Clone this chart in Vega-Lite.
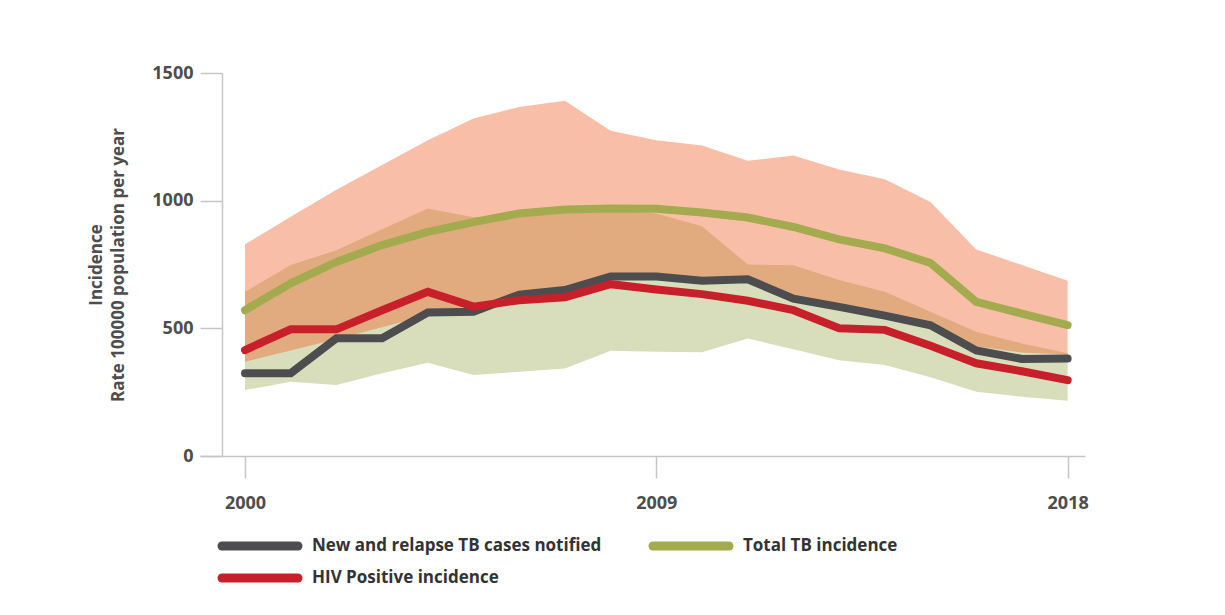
{
  "$schema": "https://vega.github.io/schema/vega-lite/v6.json",
  "width": 885,
  "height": 383,
  "autosize": {"type": "none"},
  "padding": {"left": 200, "top": 73, "right": 140, "bottom": 159},
  "background": "white",
  "config": {
    "view": {"stroke": null},
    "font": "Open Sans",
    "axis": {
      "grid": false,
      "domainColor": "#C6C6C6",
      "domainWidth": 1.5,
      "tickColor": "#C6C6C6",
      "tickWidth": 1.5,
      "tickSize": 22,
      "labelFont": "Open Sans",
      "labelFontWeight": "bold",
      "labelFontSize": 18,
      "labelColor": "#4D4D4D",
      "titleFont": "Open Sans",
      "titleFontWeight": "bold",
      "titleFontSize": 17,
      "titleColor": "#4D4D4D"
    },
    "axisY": {"offset": -22, "labelPadding": 7, "titlePadding": 24, "titleLineHeight": 22},
    "axisX": {"labelPadding": 16}
  },
  "datasets": {
    "lines": [
      {"year": 2000, "series": "New and relapse TB cases notified", "value": 324},
      {"year": 2001, "series": "New and relapse TB cases notified", "value": 324},
      {"year": 2002, "series": "New and relapse TB cases notified", "value": 461},
      {"year": 2003, "series": "New and relapse TB cases notified", "value": 461},
      {"year": 2004, "series": "New and relapse TB cases notified", "value": 562},
      {"year": 2005, "series": "New and relapse TB cases notified", "value": 565},
      {"year": 2006, "series": "New and relapse TB cases notified", "value": 632},
      {"year": 2007, "series": "New and relapse TB cases notified", "value": 650},
      {"year": 2008, "series": "New and relapse TB cases notified", "value": 703},
      {"year": 2009, "series": "New and relapse TB cases notified", "value": 703},
      {"year": 2010, "series": "New and relapse TB cases notified", "value": 686},
      {"year": 2011, "series": "New and relapse TB cases notified", "value": 692},
      {"year": 2012, "series": "New and relapse TB cases notified", "value": 616},
      {"year": 2013, "series": "New and relapse TB cases notified", "value": 584},
      {"year": 2014, "series": "New and relapse TB cases notified", "value": 550},
      {"year": 2015, "series": "New and relapse TB cases notified", "value": 512},
      {"year": 2016, "series": "New and relapse TB cases notified", "value": 413},
      {"year": 2017, "series": "New and relapse TB cases notified", "value": 380},
      {"year": 2018, "series": "New and relapse TB cases notified", "value": 382},
      {"year": 2000, "series": "HIV Positive incidence", "value": 415},
      {"year": 2001, "series": "HIV Positive incidence", "value": 496},
      {"year": 2002, "series": "HIV Positive incidence", "value": 496},
      {"year": 2003, "series": "HIV Positive incidence", "value": 571},
      {"year": 2004, "series": "HIV Positive incidence", "value": 643},
      {"year": 2005, "series": "HIV Positive incidence", "value": 585},
      {"year": 2006, "series": "HIV Positive incidence", "value": 610},
      {"year": 2007, "series": "HIV Positive incidence", "value": 622},
      {"year": 2008, "series": "HIV Positive incidence", "value": 673},
      {"year": 2009, "series": "HIV Positive incidence", "value": 652},
      {"year": 2010, "series": "HIV Positive incidence", "value": 634},
      {"year": 2011, "series": "HIV Positive incidence", "value": 608},
      {"year": 2012, "series": "HIV Positive incidence", "value": 571},
      {"year": 2013, "series": "HIV Positive incidence", "value": 500},
      {"year": 2014, "series": "HIV Positive incidence", "value": 494},
      {"year": 2015, "series": "HIV Positive incidence", "value": 432},
      {"year": 2016, "series": "HIV Positive incidence", "value": 363},
      {"year": 2017, "series": "HIV Positive incidence", "value": 332},
      {"year": 2018, "series": "HIV Positive incidence", "value": 297},
      {"year": 2000, "series": "Total TB incidence", "value": 571},
      {"year": 2001, "series": "Total TB incidence", "value": 676},
      {"year": 2002, "series": "Total TB incidence", "value": 760},
      {"year": 2003, "series": "Total TB incidence", "value": 826},
      {"year": 2004, "series": "Total TB incidence", "value": 878},
      {"year": 2005, "series": "Total TB incidence", "value": 916},
      {"year": 2006, "series": "Total TB incidence", "value": 950},
      {"year": 2007, "series": "Total TB incidence", "value": 965},
      {"year": 2008, "series": "Total TB incidence", "value": 969},
      {"year": 2009, "series": "Total TB incidence", "value": 968},
      {"year": 2010, "series": "Total TB incidence", "value": 954},
      {"year": 2011, "series": "Total TB incidence", "value": 934},
      {"year": 2012, "series": "Total TB incidence", "value": 897},
      {"year": 2013, "series": "Total TB incidence", "value": 848},
      {"year": 2014, "series": "Total TB incidence", "value": 813},
      {"year": 2015, "series": "Total TB incidence", "value": 756},
      {"year": 2016, "series": "Total TB incidence", "value": 604},
      {"year": 2017, "series": "Total TB incidence", "value": 558},
      {"year": 2018, "series": "Total TB incidence", "value": 513}
    ],
    "band_total": [
      {"year": 2000, "lower": 369, "upper": 829},
      {"year": 2001, "lower": 413, "upper": 937},
      {"year": 2002, "lower": 458, "upper": 1043},
      {"year": 2003, "lower": 504, "upper": 1140},
      {"year": 2004, "lower": 551, "upper": 1237},
      {"year": 2005, "lower": 592, "upper": 1322},
      {"year": 2006, "lower": 628, "upper": 1367},
      {"year": 2007, "lower": 648, "upper": 1391},
      {"year": 2008, "lower": 700, "upper": 1274},
      {"year": 2009, "lower": 703, "upper": 1237},
      {"year": 2010, "lower": 690, "upper": 1216},
      {"year": 2011, "lower": 694, "upper": 1156},
      {"year": 2012, "lower": 620, "upper": 1177},
      {"year": 2013, "lower": 588, "upper": 1122},
      {"year": 2014, "lower": 556, "upper": 1084},
      {"year": 2015, "lower": 522, "upper": 995},
      {"year": 2016, "lower": 430, "upper": 809},
      {"year": 2017, "lower": 405, "upper": 748},
      {"year": 2018, "lower": 398, "upper": 686}
    ],
    "band_hiv": [
      {"year": 2000, "lower": 258, "upper": 643},
      {"year": 2001, "lower": 291, "upper": 748},
      {"year": 2002, "lower": 278, "upper": 806},
      {"year": 2003, "lower": 324, "upper": 888},
      {"year": 2004, "lower": 365, "upper": 969},
      {"year": 2005, "lower": 317, "upper": 935},
      {"year": 2006, "lower": 330, "upper": 945},
      {"year": 2007, "lower": 343, "upper": 958},
      {"year": 2008, "lower": 412, "upper": 962},
      {"year": 2009, "lower": 408, "upper": 950},
      {"year": 2010, "lower": 406, "upper": 900},
      {"year": 2011, "lower": 460, "upper": 750},
      {"year": 2012, "lower": 418, "upper": 747},
      {"year": 2013, "lower": 375, "upper": 689},
      {"year": 2014, "lower": 356, "upper": 643},
      {"year": 2015, "lower": 308, "upper": 565},
      {"year": 2016, "lower": 252, "upper": 487},
      {"year": 2017, "lower": 232, "upper": 441},
      {"year": 2018, "lower": 216, "upper": 402}
    ]
  },
  "encoding": {
    "x": {
      "field": "year",
      "type": "quantitative",
      "scale": {"domain": [1999.015, 2018.38], "nice": false, "zero": false},
      "axis": {"values": [2000, 2009, 2018], "format": "d", "title": null}
    }
  },
  "layer": [
    {
      "data": {"name": "band_hiv"},
      "mark": {"type": "area", "color": "#D8DEBB", "opacity": 1},
      "encoding": {
        "y": {
          "field": "lower",
          "type": "quantitative",
          "scale": {"domain": [0, 1500], "nice": false},
          "axis": {"values": [0, 500, 1000, 1500], "format": "d"},
          "title": ["Incidence", "Rate 100000 population per year"]
        },
        "y2": {"field": "upper"}
      }
    },
    {
      "data": {"name": "band_total"},
      "mark": {"type": "area", "color": "#F1642E", "opacity": 0.42},
      "encoding": {
        "y": {
          "field": "lower",
          "type": "quantitative",
          "axis": {"values": [0, 500, 1000, 1500], "format": "d"},
          "title": ["Incidence", "Rate 100000 population per year"]
        },
        "y2": {"field": "upper"}
      }
    },
    {
      "data": {"name": "lines"},
      "mark": {"type": "line", "strokeWidth": 8, "strokeCap": "round"},
      "encoding": {
        "y": {
          "field": "value",
          "type": "quantitative",
          "axis": {"values": [0, 500, 1000, 1500], "format": "d"},
          "title": ["Incidence", "Rate 100000 population per year"]
        },
        "color": {
          "field": "series",
          "type": "nominal",
          "scale": {
            "domain": ["New and relapse TB cases notified", "HIV Positive incidence", "Total TB incidence"],
            "range": ["#4D4D4F", "#C8202B", "#A4AB4F"]
          },
          "legend": {
            "title": null,
            "orient": "none",
            "legendX": 46,
            "legendY": 459,
            "columns": 2,
            "padding": 0,
            "values": ["New and relapse TB cases notified", "HIV Positive incidence", "Total TB incidence"],
            "symbolType": "M-4,0H4",
            "symbolSize": 361,
            "symbolStrokeWidth": 9,
            "symbolOpacity": 1,
            "labelFont": "Open Sans",
            "labelFontWeight": "bold",
            "labelFontSize": 17,
            "labelColor": "#333333",
            "labelLimit": 0,
            "labelOffset": 38,
            "rowPadding": -9,
            "columnPadding": 33,
            "encode": {"symbols": {"update": {"strokeCap": {"value": "round"}}}}
          }
        }
      }
    }
  ]
}
